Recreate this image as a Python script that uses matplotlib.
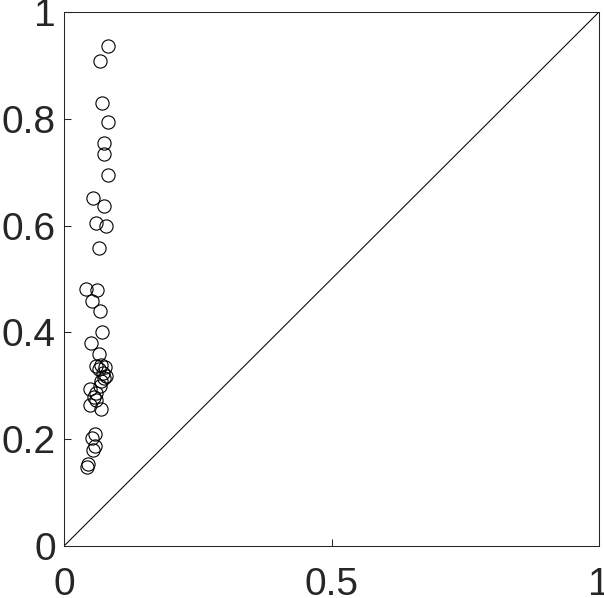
import numpy as np
import matplotlib
matplotlib.use("Agg")
import matplotlib.pyplot as plt

x_vals = [0.082, 0.067, 0.071, 0.082, 0.075, 0.075, 0.082, 0.054, 0.075, 0.060,
          0.079, 0.065, 0.041, 0.062, 0.052, 0.067, 0.071, 0.050, 0.065, 0.059,
          0.070, 0.076, 0.065, 0.073, 0.079, 0.075, 0.069, 0.067, 0.049, 0.060,
          0.056, 0.060, 0.049, 0.069, 0.058, 0.052, 0.058, 0.054, 0.045, 0.043]
y_vals = [0.936, 0.908, 0.830, 0.794, 0.755, 0.734, 0.695, 0.652, 0.637, 0.605,
          0.599, 0.558, 0.481, 0.479, 0.459, 0.440, 0.401, 0.380, 0.360, 0.337,
          0.339, 0.335, 0.331, 0.324, 0.318, 0.315, 0.309, 0.300, 0.294, 0.287,
          0.279, 0.273, 0.264, 0.257, 0.210, 0.202, 0.187, 0.180, 0.154, 0.148]
ticks = [0, 0.5, 1]
yticks = [0, 0.2, 0.4, 0.6, 0.8, 1]

plt.rcParams['font.family'] = ['Liberation Sans', 'DejaVu Sans']

fig = plt.figure(figsize=(6.04, 5.98), dpi=100)
ax = fig.add_axes([64/604, 52/598, 535/604, 534/598])

ax.plot([0, 1], [0, 1], color='black', lw=0.75)
ax.plot(x_vals, y_vals, 'o', mfc='none', mec='black', ms=9.5, mew=0.8)

ax.set_xlim(0, 1)
ax.set_ylim(0, 1)
ax.set_xticks(ticks)
ax.set_xticklabels(['0', '0.5', '1'])
ax.set_yticks(yticks)
ax.set_yticklabels(['0', '0.2', '0.4', '0.6', '0.8', '1'])
ax.tick_params(direction='in', length=5, width=0.75, labelsize=28, colors='#262626')
ax.tick_params(axis='x', pad=15)
ax.tick_params(axis='y', pad=6)
for s in ax.spines.values():
    s.set_linewidth(0.75)
    s.set_color('#262626')

fig.savefig('out.png', dpi=100)
